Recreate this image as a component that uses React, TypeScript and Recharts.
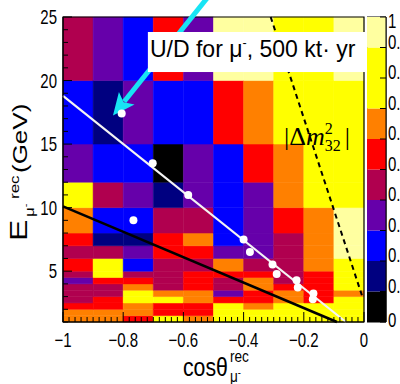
import React from 'react';
import {
  ComposedChart,
  BarChart,
  Bar,
  XAxis,
  YAxis,
  Scatter,
  ReferenceArea,
  ReferenceDot,
} from 'recharts';

const FONT = '"Liberation Sans", Arial, Helvetica, sans-serif';
const MATH = '"Liberation Serif", "DejaVu Serif", serif';

// bin edges
const cosEdges = [-1, -0.9, -0.8, -0.7, -0.6, -0.5, -0.4, -0.3, -0.2, -0.1, 0];
const energyEdges = [1, 1.5, 2, 2.5, 3, 3.5, 4, 4.5, 5, 6, 7, 8, 10, 12, 15, 20, 25];

// U/D ratio per cos bin (left to right), lowest energy bin first
const udRatio = [
  [0.65, 0.65, 0.55, 0.45, 0.45, 0.45, 0.35, 0.45, 0.55, 0.45, 0.55, 0.65, 0.8, 0.35, 0.25, 0.45],
  [0.65, 0.65, 0.55, 0.55, 0.45, 0.45, 0.55, 0.8, 0.8, 0.45, 0.15, 0.25, 0.45, 0.25, 0.15, 0.35],
  [0.55, 0.65, 0.65, 0.8, 0.8, 0.65, 0.55, 0.45, 0.25, 0.35, 0.15, 0.25, 0.35, 0.25, 0.35, 0.25],
  [0.8, 0.55, 0.55, 0.8, 0.65, 0.45, 0.45, 0.45, 0.45, 0.55, 0.55, 0.45, 0.15, 0.05, 0.25, 0.55],
  [0.65, 0.55, 0.55, 0.65, 0.65, 0.55, 0.55, 0.55, 0.45, 0.55, 0.65, 0.45, 0.35, 0.35, 0.25, 0.35],
  [0.8, 0.8, 0.8, 0.55, 0.35, 0.45, 0.45, 0.55, 0.65, 0.35, 0.25, 0.25, 0.25, 0.25, 0.55, 0.95],
  [0.8, 0.8, 0.65, 0.55, 0.55, 0.65, 0.65, 0.55, 0.45, 0.35, 0.35, 0.35, 0.35, 0.55, 0.65, 0.95],
  [0.8, 0.8, 0.8, 0.65, 0.65, 0.55, 0.45, 0.45, 0.45, 0.45, 0.45, 0.55, 0.65, 0.65, 0.8, 0.8],
  [0.8, 0.8, 0.8, 0.55, 0.55, 0.55, 0.55, 0.55, 0.65, 0.65, 0.65, 0.65, 0.8, 0.8, 0.8, 0.8],
  [0.8, 0.8, 0.8, 0.8, 0.65, 0.8, 0.8, 0.8, 0.8, 0.95, 0.95, 0.95, 0.8, 0.8, 0.8, 0.95],
];

// palette: one colour per 0.1 step of the ratio
const paletteSteps = [0, 0.1, 0.2, 0.3, 0.4, 0.5, 0.6, 0.7, 0.8, 0.9];
const paletteColors = [
  '#000000', '#000080', '#0000ff', '#6600aa', '#b0004f',
  '#ff0000', '#ff8000', '#ffff00', '#ffff00', '#ffffa0',
];

// white markers along the ridge
const ridgeCos = [-0.805, -0.702, -0.584, -0.766, -0.4, -0.379, -0.304, -0.29, -0.224, -0.22, -0.168, -0.17];
const ridgeE = [17.4, 13.5, 11.0, 9.0, 7.5, 6.5, 5.53, 4.78, 4.29, 3.72, 3.25, 2.8];

// guide lines, end points in (cos, E)
const whiteLine = [{ x: -1, y: 18.8 }, { x: -0.06, y: 1 }];
const blackLine = [{ x: -1, y: 10.1 }, { x: -0.09, y: 1 }];
const dashedLine = [{ x: -0.31, y: 25 }, { x: -0.007, y: 3.1 }];
// arrow: tail (off the top) then tip
const arrowSeg = [{ x: -0.47, y: 28 }, { x: -0.834, y: 17.25 }];

const xMajorTicks = [-1, -0.8, -0.6, -0.4, -0.2, 0];
const xTickLabels = ['\u22121', '\u22120.8', '\u22120.6', '\u22120.4', '\u22120.2', '0'];
const yMajorTicks = [5, 10, 15, 20, 25];
const yTickLabels = ['5', '10', '15', '20', '25'];
const zTicks = [0, 0.1, 0.2, 0.3, 0.4, 0.5, 0.6, 0.7, 0.8, 0.9, 1];
const zTickLabels = ['0', '0.1', '0.2', '0.3', '0.4', '0.5', '0.6', '0.7', '0.8', '0.9', '1'];

const xMinor = Array.from({ length: 51 }, (_, i) => Number((-1 + i * 0.02).toFixed(2)));
const yMinor = Array.from({ length: 25 }, (_, i) => i + 1);

const colorFor = (v: number) => paletteColors[Math.min(9, Math.floor(v * 10))];

const cells = udRatio.flatMap((col, i) =>
  col.map((v, j) => ({
    x1: cosEdges[i],
    x2: cosEdges[i + 1],
    y1: energyEdges[j],
    y2: energyEdges[j + 1],
    v,
  }))
);

const ridge = ridgeCos.map((c, i) => ({ cos: c, e: ridgeE[i] }));

const barRow = [
  paletteSteps.reduce((acc: any, s, i) => {
    acc[`s${i}`] = (i < 9 ? paletteSteps[i + 1] : 1) - s;
    return acc;
  }, { name: 'z' }),
];

const majorIndex = (list: number[], v: number) => list.findIndex((t) => Math.abs(t - v) < 1e-6);

const Squeeze = ({ x, y, sx = 0.75, children, ...rest }: any) => (
  <text transform={`translate(${x},${y}) scale(${sx},1)`} x={0} y={0} fontFamily={FONT} fill="#000" {...rest}>
    {children}
  </text>
);

const XTick = (props: any) => {
  const { x, y, payload } = props;
  const idx = majorIndex(xMajorTicks, payload.value);
  return (
    <g>
      <line x1={x} x2={x} y1={y} y2={y - (idx >= 0 ? 10 : 5)} stroke="#000" strokeWidth={1} />
      {idx >= 0 && (
        <Squeeze x={x} y={y + 25} fontSize={20} textAnchor="middle">
          {xTickLabels[idx]}
        </Squeeze>
      )}
    </g>
  );
};

const YTick = (props: any) => {
  const { x, y, payload } = props;
  const idx = majorIndex(yMajorTicks, payload.value);
  return (
    <g>
      <line x1={x} x2={x + (idx >= 0 ? 9 : 5)} y1={y} y2={y} stroke="#000" strokeWidth={1} />
      {idx >= 0 && (
        <Squeeze x={x - 6} y={y + 7} fontSize={20} textAnchor="end">
          {yTickLabels[idx]}
        </Squeeze>
      )}
    </g>
  );
};

const ZTick = (props: any) => {
  const { x, y, payload } = props;
  const idx = majorIndex(zTicks, payload.value);
  const top = idx === zTicks.length - 1;
  const bottom = idx === 0;
  return (
    <g>
      <line x1={x - 6} x2={x} y1={y} y2={y} stroke="#000" strokeWidth={1} />
      <Squeeze x={x + 2} y={top ? y + 11 : bottom ? y + 5 : y + 1} fontSize={20}>
        {zTickLabels[idx]}
      </Squeeze>
    </g>
  );
};

const XTitle = () => (
  <g>
    <Squeeze x={183} y={376} sx={0.85} fontSize={25}>cosθ</Squeeze>
    <Squeeze x={230} y={362} sx={0.85} fontSize={16}>rec</Squeeze>
    <Squeeze x={230} y={382} sx={0.85} fontSize={16}>
      μ<tspan dy={-6} fontSize={11}>-</tspan>
    </Squeeze>
  </g>
);

const YTitle = () => (
  <g transform="translate(27,241) rotate(-90) scale(1,0.75)" fontFamily={FONT} fill="#000">
    <text x={0} y={0} fontSize={32}>E</text>
    <text x={24} y={9} fontSize={17}>
      μ<tspan dy={-6} fontSize={11}>-</tspan>
    </text>
    <text x={42} y={-11} fontSize={17}>rec</text>
    <text x={68} y={0} fontSize={26}>(GeV)</text>
  </g>
);

// straight segment drawn from the upper-left to the lower-right corner of its area
const segmentShape = (stroke: string, width: number, dash?: string) => (p: any) => (
  <line
    x1={p.x}
    y1={p.y}
    x2={p.x + p.width}
    y2={p.y + p.height}
    stroke={stroke}
    strokeWidth={width}
    strokeDasharray={dash}
  />
);

// arrow from the upper-right corner (tail) to the lower-left corner (tip)
const ArrowShape = (p: any) => {
  const x1 = p.x + p.width;
  const y1 = p.y;
  const x2 = p.x;
  const y2 = p.y + p.height;
  const dx = x2 - x1;
  const dy = y2 - y1;
  const len = Math.hypot(dx, dy);
  const ux = dx / len;
  const uy = dy / len;
  const head = 22;
  const half = 10;
  const bx = x2 - ux * head;
  const by = y2 - uy * head;
  return (
    <g>
      <line x1={x1} y1={y1} x2={bx + ux * 4} y2={by + uy * 4} stroke="#18e4f4" strokeWidth={5} />
      <polygon
        points={`${x2},${y2} ${bx - uy * half},${by + ux * half} ${bx + ux * 5},${by + uy * 5} ${bx + uy * half},${by - ux * half}`}
        fill="#18e4f4"
      />
    </g>
  );
};

const LegendBox = (p: any) => {
  const { x, y, width, height } = p;
  return (
    <g>
      <rect x={x} y={y} width={width} height={height} fill="#fff" />
      <Squeeze x={x + 2} y={y + 25} sx={0.96} fontSize={24}>
        U/D for μ<tspan dy={-10} fontSize={13}>-</tspan>
        <tspan dy={10}>, 500 kt· yr</tspan>
      </Squeeze>
    </g>
  );
};

const DeltaLabel = (p: any) => {
  const { cx, cy } = p;
  return (
    <text x={cx - 37} y={cy + 10} fontFamily={MATH} fontSize={26} fill="#000">
      |Δ<tspan fontStyle="italic">m</tspan>
      <tspan dy={-11} fontSize={16}>2</tspan>
      <tspan dx={-8} dy={17} fontSize={16}>32</tspan>
      <tspan dx={4} dy={-6} fontSize={26}>|</tspan>
    </text>
  );
};

const Dot = (p: any) => <circle cx={p.cx} cy={p.cy} r={4} fill="#fff" />;

export default function App() {
  return (
    <div
      style={{
        position: 'absolute',
        left: 0,
        top: 0,
        width: 400,
        height: 384,
        overflow: 'hidden',
        background: '#fff',
        fontFamily: FONT,
      }}
    >
      <ComposedChart width={400} height={384} margin={{ top: 17, right: 36, bottom: 0, left: 0 }}>
        <XAxis
          type="number"
          dataKey="cos"
          domain={[-1, 0]}
          ticks={xMinor}
          interval={0}
          tick={<XTick />}
          tickLine={false}
          tickSize={0}
          tickMargin={0}
          height={62}
          axisLine={{ stroke: '#000' }}
          allowDataOverflow
          label={<XTitle />}
        />
        <YAxis
          type="number"
          dataKey="e"
          domain={[1, 25]}
          ticks={yMinor}
          interval={0}
          tick={<YTick />}
          tickLine={false}
          tickSize={0}
          tickMargin={0}
          width={63}
          axisLine={{ stroke: '#000' }}
          allowDataOverflow
          label={<YTitle />}
        />
        {cells.map((c, i) => (
          <ReferenceArea
            key={`cell-${i}`}
            x1={c.x1}
            x2={c.x2}
            y1={c.y1}
            y2={c.y2}
            fill={colorFor(c.v)}
            fillOpacity={1}
            stroke={colorFor(c.v)}
            strokeWidth={0.5}
            ifOverflow="visible"
          />
        ))}
        <ReferenceArea x1={-1} x2={0} y1={1} y2={25} fill="none" fillOpacity={0} stroke="#000" strokeWidth={1.2} ifOverflow="visible" />
        <ReferenceArea
          x1={dashedLine[0].x}
          x2={dashedLine[1].x}
          y1={dashedLine[1].y}
          y2={dashedLine[0].y}
          ifOverflow="visible"
          shape={segmentShape('#000', 2, '5 4')}
        />
        <ReferenceArea
          x1={blackLine[0].x}
          x2={blackLine[1].x}
          y1={blackLine[1].y}
          y2={blackLine[0].y}
          ifOverflow="visible"
          shape={segmentShape('#000', 2.5)}
        />
        <ReferenceArea
          x1={whiteLine[0].x}
          x2={whiteLine[1].x}
          y1={whiteLine[1].y}
          y2={whiteLine[0].y}
          ifOverflow="visible"
          shape={segmentShape('#f4f4f4', 2.2)}
        />
        <ReferenceArea
          x1={arrowSeg[1].x}
          x2={arrowSeg[0].x}
          y1={arrowSeg[1].y}
          y2={arrowSeg[0].y}
          ifOverflow="visible"
          shape={ArrowShape}
        />
        <ReferenceArea x1={-0.718} x2={0.01} y1={20.67} y2={23.82} ifOverflow="visible" shape={LegendBox} />
        <ReferenceDot x={-0.143} y={15.71} r={0} ifOverflow="visible" shape={DeltaLabel} />
        <Scatter data={ridge} dataKey="e" isAnimationActive={false} shape={Dot} />
      </ComposedChart>
      <div style={{ position: 'absolute', left: 367, top: 0 }}>
        <BarChart width={60} height={384} data={barRow} margin={{ top: 17, right: 0, bottom: 62, left: 0 }} barCategoryGap={0}>
          <XAxis dataKey="name" hide />
          <YAxis
            type="number"
            orientation="right"
            domain={[0, 1]}
            ticks={zTicks}
            interval={0}
            tick={<ZTick />}
            tickLine={false}
            tickSize={0}
            tickMargin={0}
            width={41}
            axisLine={{ stroke: '#000' }}
            allowDataOverflow
          />
          {paletteColors.map((c, i) => (
            <Bar key={`s${i}`} dataKey={`s${i}`} stackId="z" fill={c} isAnimationActive={false} />
          ))}
          <ReferenceArea y1={0} y2={1} fill="none" fillOpacity={0} stroke="#000" strokeWidth={1} ifOverflow="visible" />
        </BarChart>
      </div>
    </div>
  );
}
